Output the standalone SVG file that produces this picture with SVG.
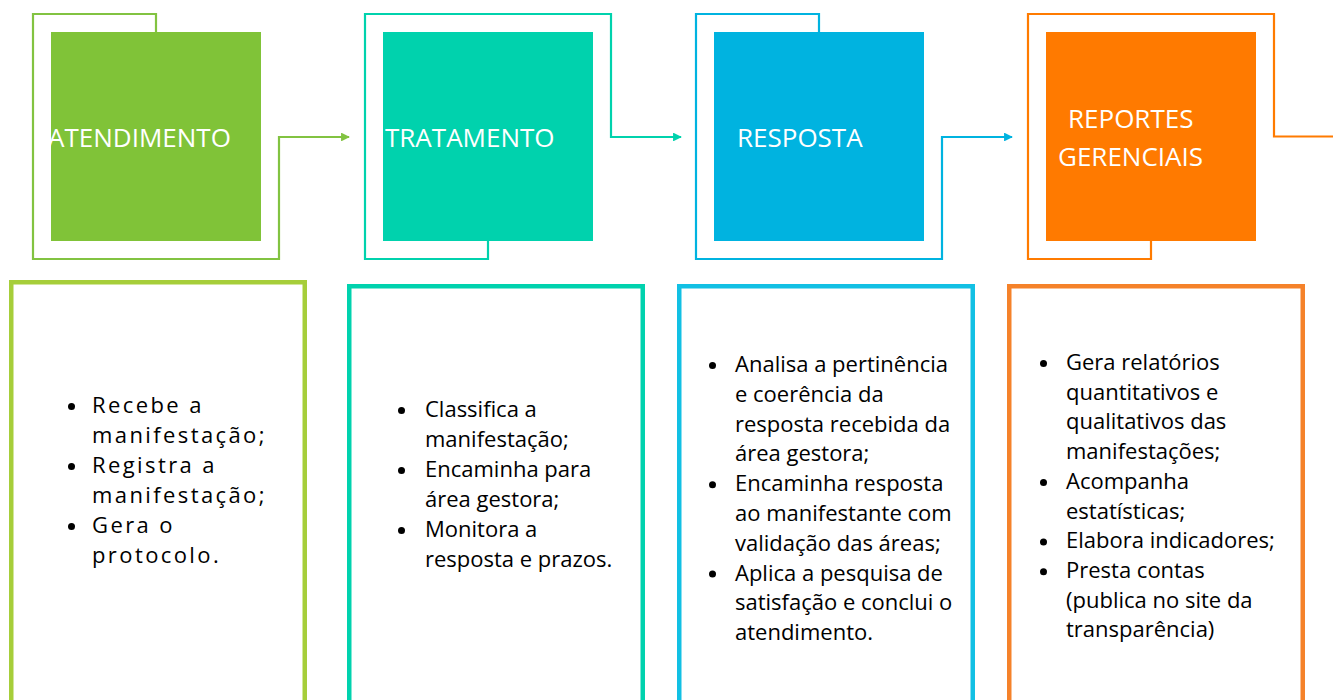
<svg xmlns="http://www.w3.org/2000/svg" width="1333" height="700" viewBox="0 0 1333 700">
<style>
.title{font-family:"Open Sans","Noto Sans",sans-serif;font-size:26px;font-weight:400;fill:#ffffff}
.body{font-family:"Open Sans","Noto Sans",sans-serif;font-size:22px;fill:#000000}
.spaced{letter-spacing:2.4px}
.conn{fill:none;stroke-width:2.2;stroke-linejoin:miter}
.card{fill:#ffffff;stroke-width:4.5}
.dot{fill:#000000}
</style>
<defs>
<marker id="ag" viewBox="0 0 10 10" refX="9" refY="5" markerWidth="4" markerHeight="4" orient="auto" markerUnits="strokeWidth"><path d="M0,0 L10,5 L0,10 z" fill="#82C341"/></marker>
<marker id="at" viewBox="0 0 10 10" refX="9" refY="5" markerWidth="4" markerHeight="4" orient="auto" markerUnits="strokeWidth"><path d="M0,0 L10,5 L0,10 z" fill="#00D2AD"/></marker>
<marker id="ab" viewBox="0 0 10 10" refX="9" refY="5" markerWidth="4" markerHeight="4" orient="auto" markerUnits="strokeWidth"><path d="M0,0 L10,5 L0,10 z" fill="#00B3E0"/></marker>
</defs>

<g id="connectors">
<path class="conn" stroke="#82C341" d="M156,32 V14 H33 V259 H279 V137 H349" marker-end="url(#ag)"/>
<path class="conn" stroke="#00D2AD" d="M488,241 V259 H365 V14 H611 V137 H681" marker-end="url(#at)"/>
<path class="conn" stroke="#00B3E0" d="M819,32 V14 H696 V259 H942 V137 H1012" marker-end="url(#ab)"/>
<path class="conn" stroke="#FF7B00" d="M1151,241 V259 H1028 V14 H1274 V136.5 H1333"/>
</g>

<g id="node-atendimento">
<rect x="51" y="32" width="210" height="209" fill="#80C338"/>
<text class="title" x="48" y="147">ATENDIMENTO</text>
</g>
<g id="node-tratamento">
<rect x="383" y="32" width="210" height="209" fill="#00D2AD"/>
<text class="title" x="385" y="147">TRATAMENTO</text>
</g>
<g id="node-resposta">
<rect x="714" y="32" width="210" height="209" fill="#00B3E0"/>
<text class="title" x="737" y="147">RESPOSTA</text>
</g>
<g id="node-reportes">
<rect x="1046" y="32" width="210" height="209" fill="#FF7A00"/>
<text class="title" x="1068" y="128">REPORTES</text>
<text class="title" x="1058" y="166">GERENCIAIS</text>
</g>

<g id="card-atendimento">
<rect class="card" stroke="#A6CE3A" x="11.25" y="282.25" width="293.5" height="440"/>
<circle class="dot" cx="71.5" cy="406.5" r="3.5"/>
<circle class="dot" cx="71.5" cy="466.5" r="3.5"/>
<circle class="dot" cx="71.5" cy="526.5" r="3.5"/>
<text class="body spaced"><tspan x="92" y="413">Recebe a</tspan><tspan x="92" y="443">manifestação;</tspan><tspan x="92" y="473">Registra a</tspan><tspan x="92" y="503">manifestação;</tspan><tspan x="92" y="533">Gera o</tspan><tspan x="92" y="563">protocolo.</tspan></text>
</g>

<g id="card-tratamento">
<rect class="card" stroke="#00D2AE" x="349.25" y="286.25" width="293.5" height="440"/>
<circle class="dot" cx="401.5" cy="410.5" r="3.5"/>
<circle class="dot" cx="401.5" cy="470.5" r="3.5"/>
<circle class="dot" cx="401.5" cy="530.5" r="3.5"/>
<text class="body"><tspan x="425" y="417">Classifica a</tspan><tspan x="425" y="447">manifestação;</tspan><tspan x="425" y="477">Encaminha para</tspan><tspan x="425" y="507">área gestora;</tspan><tspan x="425" y="537">Monitora a</tspan><tspan x="425" y="567">resposta e prazos.</tspan></text>
</g>

<g id="card-resposta">
<rect class="card" stroke="#12C0E4" x="679.25" y="286.25" width="293.5" height="440"/>
<circle class="dot" cx="712.5" cy="365.5" r="3.5"/>
<circle class="dot" cx="712.5" cy="484.7" r="3.5"/>
<circle class="dot" cx="712.5" cy="574.1" r="3.5"/>
<text class="body"><tspan x="735" y="372">Analisa a pertinência</tspan><tspan x="735" y="401.8">e coerência da</tspan><tspan x="735" y="431.6">resposta recebida da</tspan><tspan x="735" y="461.4">área gestora;</tspan><tspan x="735" y="491.2">Encaminha resposta</tspan><tspan x="735" y="521">ao manifestante com</tspan><tspan x="735" y="550.8">validação das áreas;</tspan><tspan x="735" y="580.6">Aplica a pesquisa de</tspan><tspan x="735" y="610.4">satisfação e conclui o</tspan><tspan x="735" y="640.2">atendimento.</tspan></text>
</g>

<g id="card-reportes">
<rect class="card" stroke="#F5822A" x="1009.25" y="286.25" width="293.5" height="440"/>
<circle class="dot" cx="1043.5" cy="363.5" r="3.5"/>
<circle class="dot" cx="1043.5" cy="482.5" r="3.5"/>
<circle class="dot" cx="1043.5" cy="542" r="3.5"/>
<circle class="dot" cx="1043.5" cy="571.7" r="3.5"/>
<text class="body"><tspan x="1066" y="370">Gera relatórios</tspan><tspan x="1066" y="399.7">quantitativos e</tspan><tspan x="1066" y="429.4">qualitativos das</tspan><tspan x="1066" y="459.1">manifestações;</tspan><tspan x="1066" y="488.8">Acompanha</tspan><tspan x="1066" y="518.5">estatísticas;</tspan><tspan x="1066" y="548.2">Elabora indicadores;</tspan><tspan x="1066" y="577.9">Presta contas</tspan><tspan x="1066" y="607.6">(publica no site da</tspan><tspan x="1066" y="637.3">transparência)</tspan></text>
</g>
</svg>
